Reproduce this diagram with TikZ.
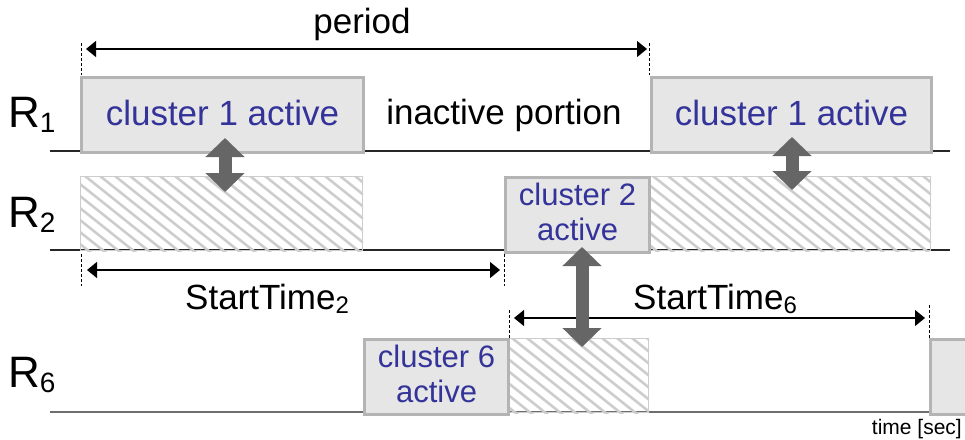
\documentclass[tikz,border=0pt]{standalone}
\usepackage{fontspec}
\setmainfont{Liberation Sans}
\usetikzlibrary{arrows.meta}
\definecolor{boxfill}{RGB}{230,230,230}
\definecolor{boxedge}{RGB}{180,180,180}
\definecolor{clusterblue}{RGB}{51,51,153}
\definecolor{hatchgray}{RGB}{205,205,205}
\definecolor{swapgray}{RGB}{102,102,102}
\definecolor{axisgray}{RGB}{110,110,110}

% diagonal hatching inside a named rectangular node
\newcommand\hatchfill[1]{%
  \begin{scope}
    \clip (#1.north west) rectangle (#1.south east);
    \foreach \k in {0,...,32}
      \draw[hatchline] ([xshift={\k*15pt-100pt}]#1.north west) -- ++(100,80);
  \end{scope}}

\begin{document}
\begin{tikzpicture}[x=1pt,y=-1pt,
  activebox/.style={draw=boxedge, fill=boxfill, line width=3pt, inner sep=0pt,
    anchor=north west},
  boxtext/.style={text=clusterblue, align=center, inner sep=0pt},
  bigtext/.style={font=\fontsize{35}{35}\selectfont},
  twoline/.style={font=\fontsize{31}{35}\selectfont},
  hatchbox/.style={draw=hatchgray, line width=1pt, inner sep=0pt, anchor=north west},
  hatchline/.style={draw=hatchgray, line width=2.6pt},
  timeline/.style={line width=1.3pt, draw=black!85},
  dim/.style={line width=1.2pt,
    {Triangle[length=10pt,width=16pt]}-{Triangle[length=10pt,width=16pt]}},
  guide/.style={dash pattern=on 3pt off 2pt, line width=0.9pt},
  exchange/.style={draw=swapgray, line width=13pt,
    {Triangle[length=19pt,width=38pt]}-{Triangle[length=19pt,width=38pt]}},
  rowlabel/.style={anchor=base west, inner sep=0pt}
]
\clip (0,0) rectangle (965,439);

% time axes of the three rows
\coordinate (r1s) at (50,151);  \coordinate (r1e) at (950,151);
\coordinate (r2s) at (50,250);  \coordinate (r2e) at (950,250);
\coordinate (r6s) at (50,412);  \coordinate (r6e) at (930,412);
\draw[timeline] (r1s) -- (r1e);
\draw[timeline] (r2s) -- (r2e);
\draw[line width=2pt, draw=axisgray] (r6s) -- (r6e);

% row labels
\node[rowlabel] (R1) at (8,127)
  {\fontsize{44}{44}\selectfont R\raisebox{-5pt}{\fontsize{28}{28}\selectfont 1}};
\node[rowlabel] (R2) at (8,227)
  {\fontsize{44}{44}\selectfont R\raisebox{-5pt}{\fontsize{28}{28}\selectfont 2}};
\node[rowlabel] (R6) at (8,387)
  {\fontsize{44}{44}\selectfont R\raisebox{-5pt}{\fontsize{28}{28}\selectfont 6}};

% hatched (waiting) intervals
\node[hatchbox, minimum width=282pt, minimum height=74pt] (h2a) at (80,176) {};
\hatchfill{h2a}
\node[hatchbox, minimum width=282pt, minimum height=74pt] (h2b) at (648,176) {};
\hatchfill{h2b}
\node[hatchbox, minimum width=141pt, minimum height=74pt] (h6) at (507,338) {};
\hatchfill{h6}

% active intervals
\node[activebox, minimum width=282pt, minimum height=75pt] (c1a) at (80,76) {};
\node[activebox, minimum width=280pt, minimum height=75pt] (c1b) at (650,76) {};
\node[activebox, minimum width=144pt, minimum height=75pt] (c2) at (504,176) {};
\node[activebox, minimum width=144pt, minimum height=75pt] (c6) at (363,338) {};
\node[activebox, minimum width=60pt, minimum height=75pt] (c6r) at (929,338) {};

\node[boxtext, bigtext, yshift=2pt] (t1a) at (c1a.center) {cluster 1 active};
\node[boxtext, bigtext, yshift=2pt] (t1b) at (c1b.center) {cluster 1 active};
\node[boxtext, twoline, yshift=3.5pt] (t2) at (c2.center) {cluster 2\\active};
\node[boxtext, twoline, yshift=3.5pt] (t6) at (c6.center) {cluster 6\\active};

\node[bigtext, anchor=base] (idle) at (504,124) {inactive portion};

% period
\coordinate (pg1a) at (81,43);  \coordinate (pg1b) at (81,75);
\coordinate (pg2a) at (649,43); \coordinate (pg2b) at (649,75);
\draw[guide] (pg1a) -- (pg1b);
\draw[guide] (pg2a) -- (pg2b);
\coordinate (pl) at (86,49); \coordinate (pr) at (647,49);
\draw[dim] (pl) -- (pr);
\node[bigtext, anchor=base] (period) at (362,33) {period};

% StartTime 2
\coordinate (sa1) at (81,254);  \coordinate (sa2) at (81,286);
\coordinate (sb1) at (504,254); \coordinate (sb2) at (504,286);
\draw[guide] (sa1) -- (sa2);
\draw[guide] (sb1) -- (sb2);
\coordinate (s2l) at (87,270); \coordinate (s2r) at (500,270);
\draw[dim] (s2l) -- (s2r);
\node[bigtext, anchor=base west, inner sep=0pt] (st2) at (185,309)
  {StartTime\raisebox{-4pt}{\fontsize{24}{24}\selectfont 2}};

% StartTime 6
\coordinate (sc1) at (509,310); \coordinate (sc2) at (509,338);
\coordinate (sd1) at (929,305); \coordinate (sd2) at (929,338);
\draw[guide] (sc1) -- (sc2);
\draw[guide] (sd1) -- (sd2);
\coordinate (s6l) at (514,318); \coordinate (s6r) at (925,318);
\draw[dim] (s6l) -- (s6r);
\node[bigtext, anchor=base west, inner sep=0pt] (st6) at (633,309)
  {StartTime\raisebox{-4pt}{\fontsize{24}{24}\selectfont 6}};

% interference between neighbouring clusters
\coordinate (x1a) at (225,138); \coordinate (x1b) at (225,192);
\coordinate (x2a) at (792,137); \coordinate (x2b) at (792,190);
\coordinate (x3a) at (582,247); \coordinate (x3b) at (582,347);
\draw[exchange] (x1a) -- (x1b);
\draw[exchange] (x2a) -- (x2b);
\draw[exchange] (x3a) -- (x3b);

% axis unit
\node[anchor=base east, inner sep=0pt, font=\fontsize{21}{21}\selectfont] (unit) at (962,434) {time [sec]};
\end{tikzpicture}
\end{document}
